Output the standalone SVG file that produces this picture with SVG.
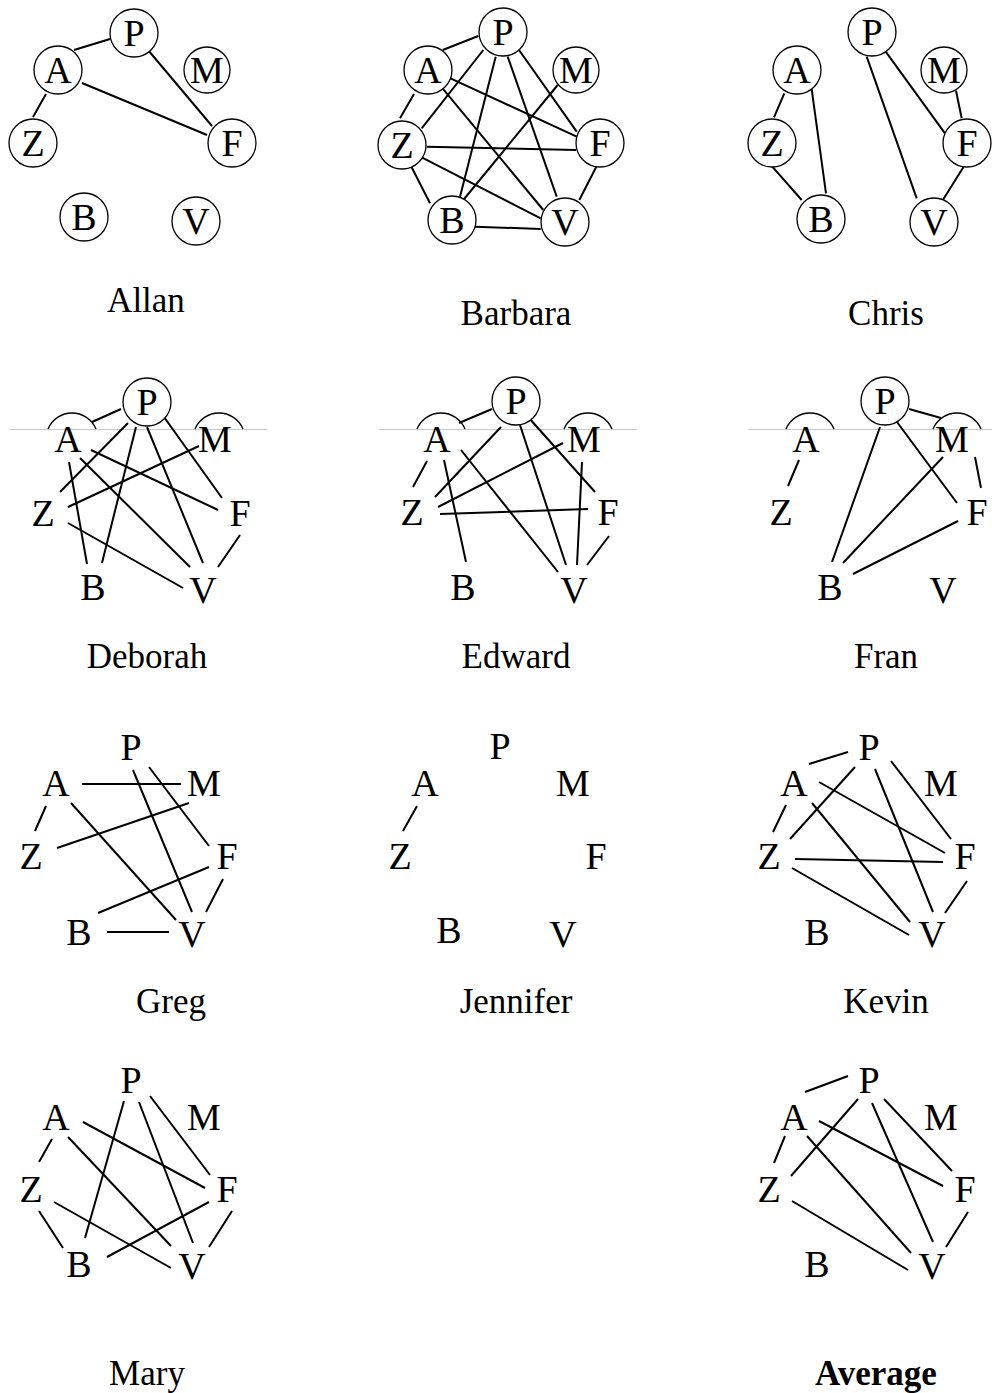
<svg xmlns="http://www.w3.org/2000/svg" width="992" height="1393" viewBox="0 0 992 1393">
<style>
text{font-family:"Liberation Serif","Times New Roman",serif;fill:#000}
.n{font-size:38px;text-anchor:middle}
.lbl{font-size:35px;text-anchor:middle}
.b{font-weight:bold}
.c{fill:#fff;stroke:#000;stroke-width:1.3}
.arc{fill:none;stroke:#000;stroke-width:1.3}
.e line{stroke:#000;stroke-width:2}
.g{stroke:#c8c8c8;stroke-width:1}
</style>
<rect width="992" height="1393" fill="#fff"/>
<g id="guides">
<line class="g" x1="10" y1="429.5" x2="267" y2="429.5"/>
<line class="g" x1="379" y1="429.5" x2="637" y2="429.5"/>
<line class="g" x1="748" y1="429.5" x2="992" y2="429.5"/>
</g>
<g id="connectors" class="e">
<!-- Allan -->
<line x1="74" y1="50" x2="110" y2="39"/>
<line x1="148" y1="50" x2="212" y2="126"/>
<line x1="82" y1="83" x2="207" y2="135"/>
<line x1="46" y1="94" x2="33" y2="117"/>
<!-- Barbara -->
<line x1="442.7" y1="50" x2="478.3" y2="36"/>
<line x1="483.3" y1="50" x2="421.7" y2="128.3"/>
<line x1="495.7" y1="56.7" x2="460" y2="196.7"/>
<line x1="507.7" y1="56.7" x2="556.7" y2="196.7"/>
<line x1="519" y1="50" x2="576.7" y2="131.7"/>
<line x1="557.7" y1="85" x2="463.3" y2="200"/>
<line x1="448.3" y1="77.3" x2="576.7" y2="136.7"/>
<line x1="441.7" y1="87.3" x2="543.3" y2="210"/>
<line x1="414" y1="94" x2="400" y2="118.3"/>
<line x1="426.7" y1="146.7" x2="576" y2="150"/>
<line x1="421.7" y1="157.3" x2="540.7" y2="218.3"/>
<line x1="410" y1="164" x2="430" y2="203.3"/>
<line x1="475" y1="226.7" x2="540.7" y2="229"/>
<line x1="596.7" y1="166" x2="579.3" y2="200"/>
<!-- Chris -->
<line x1="784.3" y1="93.3" x2="774" y2="117.3"/>
<line x1="811.7" y1="89.3" x2="826" y2="193.3"/>
<line x1="772.3" y1="166.7" x2="801.7" y2="200"/>
<line x1="866.7" y1="56.7" x2="916.7" y2="198.3"/>
<line x1="885.7" y1="51.7" x2="945" y2="133.3"/>
<line x1="956" y1="90.7" x2="961.7" y2="118.3"/>
<line x1="964.3" y1="165.7" x2="943.3" y2="199.3"/>
<!-- Deborah -->
<line x1="92" y1="422" x2="121" y2="409"/>
<line x1="128" y1="423" x2="60" y2="492"/>
<line x1="136" y1="427" x2="102" y2="563"/>
<line x1="147" y1="427" x2="203" y2="563"/>
<line x1="164" y1="417" x2="222" y2="498"/>
<line x1="199" y1="446" x2="68" y2="507"/>
<line x1="91" y1="450" x2="218" y2="510"/>
<line x1="80" y1="458" x2="190" y2="567"/>
<line x1="69" y1="462" x2="87" y2="564"/>
<line x1="68" y1="523" x2="183" y2="588"/>
<line x1="240" y1="535" x2="218" y2="567"/>
<!-- Edward -->
<line x1="459" y1="423" x2="492" y2="409"/>
<line x1="501" y1="427" x2="435" y2="497"/>
<line x1="520" y1="425" x2="566" y2="565"/>
<line x1="529" y1="418" x2="595" y2="492"/>
<line x1="563" y1="443" x2="438" y2="507"/>
<line x1="582" y1="462" x2="577" y2="565"/>
<line x1="427" y1="461" x2="413" y2="487"/>
<line x1="444" y1="460" x2="466" y2="562"/>
<line x1="461" y1="450" x2="558" y2="572"/>
<line x1="440" y1="514" x2="588" y2="509"/>
<line x1="609" y1="536" x2="587" y2="565"/>
<!-- Fran -->
<line x1="909" y1="409" x2="941" y2="418"/>
<line x1="880" y1="427" x2="832" y2="562"/>
<line x1="897" y1="422" x2="957" y2="503"/>
<line x1="943" y1="457" x2="843" y2="563"/>
<line x1="975" y1="457" x2="981" y2="488"/>
<line x1="799" y1="460" x2="788" y2="486"/>
<line x1="958" y1="521" x2="853" y2="574"/>
<!-- Greg -->
<line x1="82" y1="784" x2="181" y2="784"/>
<line x1="46" y1="806" x2="35" y2="831"/>
<line x1="71" y1="803" x2="176" y2="920"/>
<line x1="133" y1="770" x2="192" y2="912"/>
<line x1="149" y1="767" x2="209" y2="846"/>
<line x1="189" y1="803" x2="57" y2="848"/>
<line x1="209" y1="867" x2="98" y2="913"/>
<line x1="223" y1="879" x2="206" y2="912"/>
<line x1="107" y1="932" x2="169" y2="932"/>
<!-- Jennifer -->
<line x1="417" y1="806" x2="403" y2="831"/>
<!-- Kevin -->
<line x1="809" y1="764" x2="848" y2="752"/>
<line x1="855" y1="767" x2="790" y2="839"/>
<line x1="875" y1="769" x2="933" y2="912"/>
<line x1="891" y1="761" x2="951" y2="839"/>
<line x1="786" y1="805" x2="773" y2="832"/>
<line x1="819" y1="782" x2="945" y2="853"/>
<line x1="812" y1="803" x2="910" y2="922"/>
<line x1="795" y1="859" x2="943" y2="862"/>
<line x1="792" y1="868" x2="909" y2="935"/>
<line x1="967" y1="881" x2="945" y2="913"/>
<!-- Mary -->
<line x1="124" y1="1101" x2="85" y2="1238"/>
<line x1="139" y1="1102" x2="193" y2="1243"/>
<line x1="150" y1="1096" x2="210" y2="1175"/>
<line x1="83" y1="1122" x2="205" y2="1188"/>
<line x1="68" y1="1137" x2="171" y2="1246"/>
<line x1="52" y1="1139" x2="39" y2="1162"/>
<line x1="39" y1="1211" x2="63" y2="1248"/>
<line x1="54" y1="1202" x2="171" y2="1268"/>
<line x1="209" y1="1202" x2="107" y2="1257"/>
<line x1="232" y1="1211" x2="209" y2="1247"/>
<!-- Average -->
<line x1="805" y1="1092" x2="848" y2="1076"/>
<line x1="858" y1="1099" x2="791" y2="1176"/>
<line x1="872" y1="1103" x2="933" y2="1242"/>
<line x1="884" y1="1099" x2="952" y2="1171"/>
<line x1="785" y1="1136" x2="774" y2="1163"/>
<line x1="819" y1="1121" x2="943" y2="1186"/>
<line x1="807" y1="1136" x2="911" y2="1253"/>
<line x1="792" y1="1201" x2="908" y2="1270"/>
<line x1="968" y1="1212" x2="946" y2="1247"/>
</g>
<!-- Allan -->
<g id="allan-P"><circle class="c" cx="134" cy="33" r="24"/><text class="n" x="134" y="46">P</text></g>
<g id="allan-A"><circle class="c" cx="58" cy="70" r="24"/><text class="n" x="58" y="83">A</text></g>
<g id="allan-M"><circle class="c" cx="207" cy="70" r="23"/><text class="n" x="207" y="83">M</text></g>
<g id="allan-Z"><circle class="c" cx="33" cy="143" r="24"/><text class="n" x="33" y="156">Z</text></g>
<g id="allan-F"><circle class="c" cx="232" cy="143" r="24"/><text class="n" x="232" y="156">F</text></g>
<g id="allan-B"><circle class="c" cx="84" cy="217" r="24"/><text class="n" x="84" y="230">B</text></g>
<g id="allan-V"><circle class="c" cx="196" cy="221" r="24"/><text class="n" x="196" y="234">V</text></g>
<text id="label-allan" class="lbl" x="146" y="312">Allan</text>
<!-- Barbara -->
<g id="barbara-P"><circle class="c" cx="503" cy="32" r="24"/><text class="n" x="503" y="45">P</text></g>
<g id="barbara-A"><circle class="c" cx="428" cy="70" r="24"/><text class="n" x="428" y="83">A</text></g>
<g id="barbara-M"><circle class="c" cx="576" cy="70" r="23"/><text class="n" x="576" y="83">M</text></g>
<g id="barbara-Z"><circle class="c" cx="402" cy="145" r="24"/><text class="n" x="402" y="158">Z</text></g>
<g id="barbara-F"><circle class="c" cx="600" cy="143" r="24"/><text class="n" x="600" y="156">F</text></g>
<g id="barbara-B"><circle class="c" cx="452" cy="220" r="24"/><text class="n" x="452" y="233">B</text></g>
<g id="barbara-V"><circle class="c" cx="565" cy="222" r="24"/><text class="n" x="565" y="235">V</text></g>
<text id="label-barbara" class="lbl" x="516" y="325">Barbara</text>
<!-- Chris -->
<g id="chris-P"><circle class="c" cx="872" cy="32" r="24"/><text class="n" x="872" y="45">P</text></g>
<g id="chris-A"><circle class="c" cx="797" cy="70" r="24"/><text class="n" x="797" y="83">A</text></g>
<g id="chris-M"><circle class="c" cx="944" cy="70" r="23"/><text class="n" x="944" y="83">M</text></g>
<g id="chris-Z"><circle class="c" cx="772" cy="143" r="24"/><text class="n" x="772" y="156">Z</text></g>
<g id="chris-F"><circle class="c" cx="967" cy="143" r="24"/><text class="n" x="967" y="156">F</text></g>
<g id="chris-B"><circle class="c" cx="821" cy="219" r="24"/><text class="n" x="821" y="232">B</text></g>
<g id="chris-V"><circle class="c" cx="934" cy="222" r="24"/><text class="n" x="934" y="235">V</text></g>
<text id="label-chris" class="lbl" x="886" y="325">Chris</text>
<!-- Deborah -->
<g id="deborah-P"><circle class="c" cx="147" cy="402" r="24"/><text class="n" x="147" y="415">P</text></g>
<g id="deborah-A"><path class="arc" d="M48 429A26 26 0 0 1 96 429"/><text class="n" x="68" y="452">A</text></g>
<g id="deborah-M"><path class="arc" d="M195 429A26 26 0 0 1 243 429"/><text class="n" x="215" y="452">M</text></g>
<g id="deborah-Z"><text class="n" x="43" y="526">Z</text></g>
<g id="deborah-F"><text class="n" x="240" y="526">F</text></g>
<g id="deborah-B"><text class="n" x="93" y="600">B</text></g>
<g id="deborah-V"><text class="n" x="203" y="603">V</text></g>
<text id="label-deborah" class="lbl" x="147" y="668">Deborah</text>
<!-- Edward -->
<g id="edward-P"><circle class="c" cx="516" cy="401" r="24"/><text class="n" x="516" y="414">P</text></g>
<g id="edward-A"><path class="arc" d="M417 429A26 26 0 0 1 465 429"/><text class="n" x="437" y="452">A</text></g>
<g id="edward-M"><path class="arc" d="M564 429A26 26 0 0 1 612 429"/><text class="n" x="584" y="452">M</text></g>
<g id="edward-Z"><text class="n" x="412" y="525">Z</text></g>
<g id="edward-F"><text class="n" x="608" y="525">F</text></g>
<g id="edward-B"><text class="n" x="463" y="600">B</text></g>
<g id="edward-V"><text class="n" x="574" y="603">V</text></g>
<text id="label-edward" class="lbl" x="516" y="668">Edward</text>
<!-- Fran -->
<g id="fran-P"><circle class="c" cx="885" cy="401" r="24"/><text class="n" x="885" y="414">P</text></g>
<g id="fran-A"><path class="arc" d="M786 429A26 26 0 0 1 834 429"/><text class="n" x="806" y="452">A</text></g>
<g id="fran-M"><path class="arc" d="M933 429A26 26 0 0 1 981 429"/><text class="n" x="952" y="452">M</text></g>
<g id="fran-Z"><text class="n" x="781" y="525">Z</text></g>
<g id="fran-F"><text class="n" x="977" y="525">F</text></g>
<g id="fran-B"><text class="n" x="830" y="600">B</text></g>
<g id="fran-V"><text class="n" x="943" y="603">V</text></g>
<text id="label-fran" class="lbl" x="886" y="668">Fran</text>
<!-- Greg -->
<g id="greg-P"><text class="n" x="131" y="760">P</text></g>
<g id="greg-A"><text class="n" x="56" y="796">A</text></g>
<g id="greg-M"><text class="n" x="204" y="796">M</text></g>
<g id="greg-Z"><text class="n" x="31" y="869">Z</text></g>
<g id="greg-F"><text class="n" x="227" y="869">F</text></g>
<g id="greg-B"><text class="n" x="79" y="945">B</text></g>
<g id="greg-V"><text class="n" x="192" y="947">V</text></g>
<text id="label-greg" class="lbl" x="171" y="1013">Greg</text>
<!-- Jennifer -->
<g id="jennifer-P"><text class="n" x="500" y="759">P</text></g>
<g id="jennifer-A"><text class="n" x="425" y="796">A</text></g>
<g id="jennifer-M"><text class="n" x="573" y="796">M</text></g>
<g id="jennifer-Z"><text class="n" x="400" y="869">Z</text></g>
<g id="jennifer-F"><text class="n" x="596" y="869">F</text></g>
<g id="jennifer-B"><text class="n" x="449" y="943">B</text></g>
<g id="jennifer-V"><text class="n" x="563" y="947">V</text></g>
<text id="label-jennifer" class="lbl" x="516" y="1013">Jennifer</text>
<!-- Kevin -->
<g id="kevin-P"><text class="n" x="869" y="760">P</text></g>
<g id="kevin-A"><text class="n" x="794" y="796">A</text></g>
<g id="kevin-M"><text class="n" x="941" y="796">M</text></g>
<g id="kevin-Z"><text class="n" x="769" y="869">Z</text></g>
<g id="kevin-F"><text class="n" x="965" y="869">F</text></g>
<g id="kevin-B"><text class="n" x="817" y="945">B</text></g>
<g id="kevin-V"><text class="n" x="932" y="947">V</text></g>
<text id="label-kevin" class="lbl" x="886" y="1013">Kevin</text>
<!-- Mary -->
<g id="mary-P"><text class="n" x="131" y="1093">P</text></g>
<g id="mary-A"><text class="n" x="56" y="1130">A</text></g>
<g id="mary-M"><text class="n" x="204" y="1130">M</text></g>
<g id="mary-Z"><text class="n" x="31" y="1202">Z</text></g>
<g id="mary-F"><text class="n" x="227" y="1202">F</text></g>
<g id="mary-B"><text class="n" x="79" y="1277">B</text></g>
<g id="mary-V"><text class="n" x="192" y="1279">V</text></g>
<text id="label-mary" class="lbl" x="147" y="1385">Mary</text>
<!-- Average -->
<g id="average-P"><text class="n" x="869" y="1093">P</text></g>
<g id="average-A"><text class="n" x="794" y="1130">A</text></g>
<g id="average-M"><text class="n" x="941" y="1130">M</text></g>
<g id="average-Z"><text class="n" x="769" y="1202">Z</text></g>
<g id="average-F"><text class="n" x="965" y="1202">F</text></g>
<g id="average-B"><text class="n" x="817" y="1277">B</text></g>
<g id="average-V"><text class="n" x="932" y="1279">V</text></g>
<text id="label-average" class="lbl b" x="876" y="1385">Average</text>
</svg>
